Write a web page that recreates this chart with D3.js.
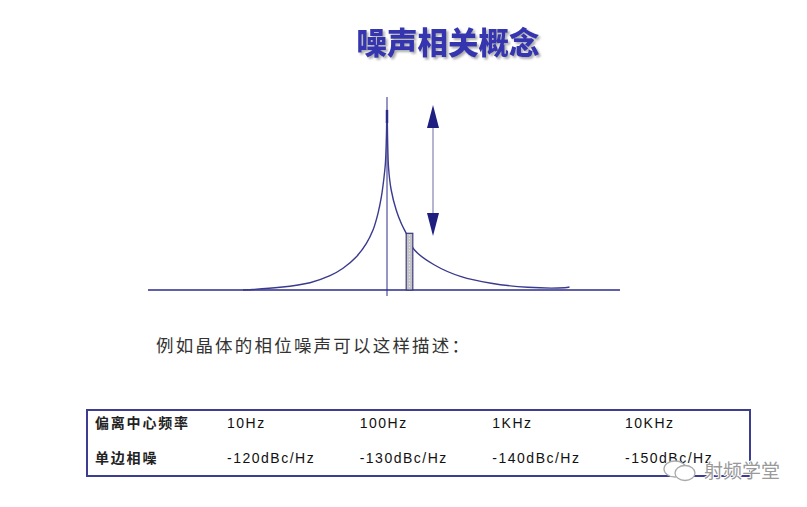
<!DOCTYPE html>
<html>
<head>
<meta charset="utf-8">
<script src="https://cdn.jsdelivr.net/npm/d3@7"></script>
<style>
  body { margin: 0; background: #fff; }
  svg { display: block; }
</style>
</head>
<body>
<div id="chart"></div>
<script>
// spectrum shape: offset from carrier (arbitrary units) and level above the floor
var curveOffsets = [-144, -107, -77, -57, -44, -30.6, -20.6, -14, -9, -5.6, -3.3, -1.6, -0.6, 0,
                    1.5, 4.2, 9.2, 14.2, 19.2, 27.5, 47.5, 74.2, 104.2, 140.8, 177.5, 182.5];
var curveLevels  = [0, 2.7, 7.3, 14.3, 21.7, 33.3, 46.7, 60, 76.7, 93.3, 110, 126.7, 153, 180,
                    123, 100, 80, 66.7, 56.7, 40, 25, 13.3, 6.7, 2.7, 2.3, 3];

// measurement window (the grey bar) and the arrow marking its level below the carrier
var barOffset = [19.2, 25.8];
var barLevel = 56.7;
var arrowOffset = 46;
var arrowLevels = [185, 54];

// table
var rowLabels = ["偏离中心频率", "单边相噪"];
var offsetLabels = ["10Hz", "100Hz", "1KHz", "10KHz"];
var noiseLabels = ["-120dBc/Hz", "-130dBc/Hz", "-140dBc/Hz", "-150dBc/Hz"];

var width = 807, height = 507;
var navy = "#2b2b8c";

var svg = d3.select("#chart")
    .append("svg")
    .attr("width", width)
    .attr("height", height);

// title with drop shadow
var defs = svg.append("defs");
var shadow = defs.append("filter").attr("id", "shadow")
    .attr("x", "-10%").attr("y", "-20%").attr("width", "130%").attr("height", "150%");
shadow.append("feDropShadow")
    .attr("dx", 2).attr("dy", 2).attr("stdDeviation", 1)
    .attr("flood-color", "#999").attr("flood-opacity", 0.8);

svg.append("text")
    .attr("x", 448)
    .attr("y", 54)
    .attr("text-anchor", "middle")
    .attr("font-family", "Noto Sans CJK SC")
    .attr("font-weight", "900")
    .attr("font-size", 30.5)
    .attr("fill", "#3636b0")
    .attr("filter", "url(#shadow)")
    .text("噪声相关概念");

// scales
var x = d3.scaleLinear()
    .domain([-239, 233])
    .range([148, 620]);
var y = d3.scaleLinear()
    .domain([0, 200])
    .range([290, 90]);

// baseline
svg.append("line")
    .attr("x1", x(-239)).attr("x2", x(233))
    .attr("y1", y(0)).attr("y2", y(0))
    .attr("stroke", navy)
    .attr("stroke-width", 1.5);

// carrier line
svg.append("line")
    .attr("x1", x(0)).attr("x2", x(0))
    .attr("y1", y(193)).attr("y2", y(-6))
    .attr("stroke", navy)
    .attr("stroke-width", 1);

// noise skirt
var line = d3.line()
    .x(function(d, i) { return x(curveOffsets[i]); })
    .y(function(d) { return y(d); })
    .curve(d3.curveCatmullRom.alpha(0.5));

svg.append("path")
    .datum(curveLevels)
    .attr("d", line)
    .attr("fill", "none")
    .attr("stroke", "#3a3a8e")
    .attr("stroke-width", 1.4);

// peak tip emphasis
svg.append("line")
    .attr("x1", x(0)).attr("x2", x(0))
    .attr("y1", y(180)).attr("y2", y(167))
    .attr("stroke", navy)
    .attr("stroke-width", 2.5);

// measurement bar
var pattern = defs.append("pattern").attr("id", "dots")
    .attr("width", 3).attr("height", 3).attr("patternUnits", "userSpaceOnUse");
pattern.append("rect").attr("width", 3).attr("height", 3).attr("fill", "#c4c4c8");
pattern.append("rect").attr("x", 1).attr("y", 1).attr("width", 1).attr("height", 1).attr("fill", "#e8e8ec");

svg.append("rect")
    .attr("x", x(barOffset[0]))
    .attr("y", y(barLevel))
    .attr("width", x(barOffset[1]) - x(barOffset[0]))
    .attr("height", y(0) - y(barLevel))
    .attr("fill", "url(#dots)")
    .attr("stroke", "#3a3a7a")
    .attr("stroke-width", 1.2);

// double arrow
var ax = x(arrowOffset);
var yTop = y(arrowLevels[0]), yBot = y(arrowLevels[1]);
svg.append("line")
    .attr("x1", ax).attr("x2", ax)
    .attr("y1", yTop + 20).attr("y2", yBot - 20)
    .attr("stroke", "#6a6aa0")
    .attr("stroke-width", 1);
svg.append("path")
    .attr("d", "M" + ax + "," + yTop + " L" + (ax - 6) + "," + (yTop + 23) + " L" + (ax + 6) + "," + (yTop + 23) + " Z")
    .attr("fill", "#1f1f80");
svg.append("path")
    .attr("d", "M" + ax + "," + yBot + " L" + (ax - 6) + "," + (yBot - 23) + " L" + (ax + 6) + "," + (yBot - 23) + " Z")
    .attr("fill", "#1f1f80");

// caption
svg.append("text")
    .attr("x", 156)
    .attr("y", 352)
    .attr("font-family", "Noto Sans CJK SC")
    .attr("font-size", 17.5)
    .attr("letter-spacing", 2.2)
    .attr("fill", "#333")
    .text("例如晶体的相位噪声可以这样描述：");

// table frame
svg.append("rect")
    .attr("x", 87).attr("y", 410)
    .attr("width", 663).attr("height", 66)
    .attr("fill", "none")
    .attr("stroke", "#3c3c90")
    .attr("stroke-width", 2);

var colX = d3.scalePoint()
    .domain(offsetLabels)
    .range([227, 625]);
var rowY = d3.scalePoint()
    .domain([0, 1])
    .range([428, 463]);

svg.selectAll(".rowlabel")
    .data(rowLabels)
    .enter()
    .append("text")
    .attr("class", "rowlabel")
    .attr("x", 95)
    .attr("y", function(d, i) { return rowY(i); })
    .attr("font-family", "Noto Sans CJK SC")
    .attr("font-weight", "bold")
    .attr("font-size", 14)
    .attr("letter-spacing", 1.8)
    .attr("fill", "#222")
    .text(function(d) { return d; });

svg.selectAll(".freq")
    .data(offsetLabels)
    .enter()
    .append("text")
    .attr("class", "freq")
    .attr("x", function(d) { return colX(d); })
    .attr("y", rowY(0))
    .attr("font-family", "Liberation Sans")
    .attr("font-size", 14)
    .attr("letter-spacing", 1.5)
    .attr("fill", "#111")
    .text(function(d) { return d; });

svg.selectAll(".noise")
    .data(noiseLabels)
    .enter()
    .append("text")
    .attr("class", "noise")
    .attr("x", function(d, i) { return colX(offsetLabels[i]); })
    .attr("y", rowY(1))
    .attr("font-family", "Liberation Sans")
    .attr("font-size", 14)
    .attr("letter-spacing", 1.5)
    .attr("fill", "#111")
    .text(function(d) { return d; });

// watermark
var wm = svg.append("g").attr("transform", "translate(663,462)");
wm.append("ellipse").attr("cx", 12).attr("cy", 7).attr("rx", 11).attr("ry", 8)
    .attr("fill", "#fff").attr("stroke", "#aaa").attr("stroke-width", 1.3);
wm.append("ellipse").attr("cx", 22).attr("cy", 11).attr("rx", 10).attr("ry", 7.5)
    .attr("fill", "#fff").attr("stroke", "#aaa").attr("stroke-width", 1.3);
svg.append("text")
    .attr("x", 704)
    .attr("y", 478)
    .attr("font-family", "Noto Sans CJK SC")
    .attr("font-size", 19)
    .attr("fill", "#9a9a9a")
    .attr("stroke", "#fff")
    .attr("stroke-width", 2)
    .attr("paint-order", "stroke")
    .text("射频学堂");
</script>
</body>
</html>
